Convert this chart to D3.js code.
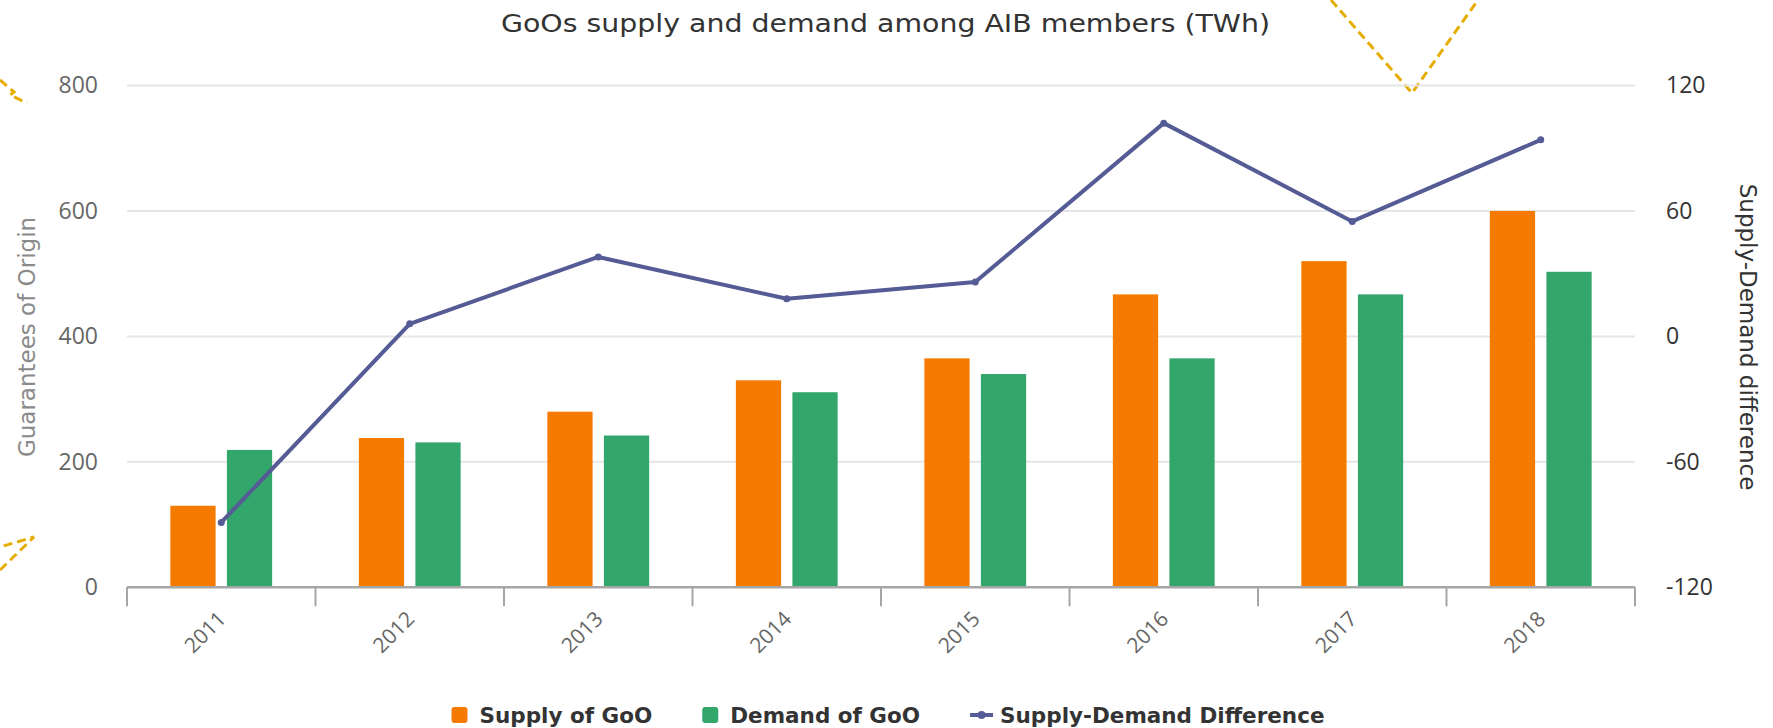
<!DOCTYPE html>
<html>
<head>
<meta charset="utf-8">
<script src="https://cdn.jsdelivr.net/npm/d3@7"></script>
<style>
  html, body { margin: 0; padding: 0; background: #fff; }
  svg { display: block; font-family: "DejaVu Sans", Verdana, sans-serif; }
</style>
</head>
<body>
<svg id="chart" width="1773" height="728"></svg>
<script>
// ---- data ----
const categories = ["2011", "2012", "2013", "2014", "2015", "2016", "2017", "2018"];
const supply = [130, 238, 280, 330, 365, 467, 520, 600];
const demand = [219, 231, 242, 311, 340, 365, 467, 503];
const difference = [-89, 6, 38, 18, 26, 102, 55, 94];
const leftTicks = [0, 200, 400, 600, 800];
const rightTicks = [-120, -60, 0, 60, 120];
const seriesNames = ["Supply of GoO", "Demand of GoO", "Supply-Demand Difference"];
const titleText = "GoOs supply and demand among AIB members (TWh)";
const leftTitle = "Guarantees of Origin";
const rightTitle = "Supply-Demand difference";

// ---- styling ----
const colSupply = "#f57a00";
const colDemand = "#32a66b";
const colLine = "#555b95";

const W = 1773, H = 728;
const plot = { left: 127, right: 1635, top: 85.5, bottom: 587.3 };

const svg = d3.select("#chart");
svg.append("rect").attr("width", W).attr("height", H).attr("fill", "#fff");

// decorative dashed yellow strokes from page background
const deco = svg.append("g").attr("fill", "none").attr("stroke", "#e6ad00")
  .attr("stroke-width", 3).attr("stroke-dasharray", "9,5");
deco.append("path").attr("d", "M1331,0 L1412,93 L1478,0");
deco.append("path").attr("d", "M0,80 L14,92 L10,95 L27,103").attr("stroke-dasharray", null);
deco.append("path").attr("d", "M0,570 L34,537 L0,547");

const x0 = d3.scaleBand().domain(categories).range([plot.left, plot.right]).paddingInner(0).paddingOuter(0);
const bw = x0.bandwidth();
const x1 = d3.scaleBand().domain(["supply", "demand"]).range([0.2 * bw, 0.8 * bw]).paddingInner(0.2).paddingOuter(0.1);
const yL = d3.scaleLinear().domain([0, 800]).range([plot.bottom, plot.top]);
const yR = d3.scaleLinear().domain([-120, 120]).range([plot.bottom, plot.top]);

// gridlines
svg.append("g").selectAll("line").data(leftTicks.filter(d => d > 0)).join("line")
  .attr("x1", plot.left).attr("x2", plot.right)
  .attr("y1", d => yL(d)).attr("y2", d => yL(d))
  .attr("stroke", "#e6e6e6").attr("stroke-width", 2);

// left axis labels
const gL = svg.append("g").attr("transform", `translate(${plot.left},0)`)
  .call(d3.axisLeft(yL).tickValues(leftTicks).tickSize(0).tickPadding(29));
gL.select(".domain").remove();
gL.selectAll("text").attr("font-size", 23).attr("fill", "#666").attr("font-family", "Open Sans");

// right axis labels
const gR = svg.append("g").attr("transform", `translate(${plot.right},0)`)
  .call(d3.axisRight(yR).tickValues(rightTicks).tickSize(0).tickPadding(31).tickFormat(d => d < 0 ? "-" + Math.abs(d) : d));
gR.select(".domain").remove();
gR.selectAll("text").attr("font-size", 23).attr("fill", "#333").attr("font-family", "Open Sans");

// bars
const groups = svg.append("g").selectAll("g").data(categories).join("g")
  .attr("transform", d => `translate(${x0(d)},0)`);
groups.append("rect")
  .attr("x", x1("supply")).attr("width", x1.bandwidth())
  .attr("y", (d, i) => yL(supply[i])).attr("height", (d, i) => yL(0) - yL(supply[i]))
  .attr("fill", colSupply);
groups.append("rect")
  .attr("x", x1("demand")).attr("width", x1.bandwidth())
  .attr("y", (d, i) => yL(demand[i])).attr("height", (d, i) => yL(0) - yL(demand[i]))
  .attr("fill", colDemand);

// x axis
const gX = svg.append("g").attr("transform", `translate(0,${plot.bottom})`);
gX.append("line").attr("x1", plot.left).attr("x2", plot.right).attr("y1", 0).attr("y2", 0)
  .attr("stroke", "#a6a6a6").attr("stroke-width", 2.5);
const bounds = categories.map(c => x0(c)).concat([plot.right]);
gX.selectAll("line.tick").data(bounds).join("line").attr("class", "tick")
  .attr("x1", d => d).attr("x2", d => d).attr("y1", 0).attr("y2", 19)
  .attr("stroke", "#a6a6a6").attr("stroke-width", 2);
gX.selectAll("text").data(categories).join("text")
  .attr("transform", d => `translate(${x0(d) + bw / 2 + 6},33) rotate(-45)`)
  .attr("text-anchor", "end")
  .attr("font-size", 21).attr("fill", "#666").attr("font-family", "Open Sans")
  .text(d => d);

// line
const line = d3.line().x((d, i) => x0(categories[i]) + bw / 2).y(d => yR(d));
svg.append("path").datum(difference).attr("d", line)
  .attr("fill", "none").attr("stroke", colLine).attr("stroke-width", 4)
  .attr("stroke-linejoin", "round").attr("stroke-linecap", "round");
svg.append("g").selectAll("circle").data(difference).join("circle")
  .attr("cx", (d, i) => x0(categories[i]) + bw / 2).attr("cy", d => yR(d)).attr("r", 3.5)
  .attr("fill", colLine);

// title
svg.append("text").attr("x", 885.5).attr("y", 32).attr("text-anchor", "middle")
  .attr("font-size", 25).attr("fill", "#333")
  .attr("textLength", 769).attr("lengthAdjust", "spacingAndGlyphs")
  .text(titleText);

// axis titles
svg.append("text").attr("transform", `translate(35,337) rotate(-90)`)
  .attr("text-anchor", "middle").attr("font-size", 23).attr("fill", "#8a8a8a").text(leftTitle);
svg.append("text").attr("transform", `translate(1740,337) rotate(90)`)
  .attr("text-anchor", "middle").attr("font-size", 23).attr("fill", "#333").text(rightTitle);

// legend
const legend = svg.append("g");
const legendY = 715;
const items = [
  { name: seriesNames[0], type: "rect", color: colSupply },
  { name: seriesNames[1], type: "rect", color: colDemand },
  { name: seriesNames[2], type: "line", color: colLine }
];
const gap = 50;
let cx = 0;
items.forEach((it) => {
  const g = legend.append("g").attr("transform", `translate(${cx},0)`);
  let symW;
  if (it.type === "rect") {
    g.append("rect").attr("x", 0).attr("y", legendY - 8).attr("width", 16).attr("height", 16)
      .attr("rx", 3).attr("fill", it.color);
    symW = 16 + 12;
  } else {
    g.append("line").attr("x1", 0).attr("x2", 23).attr("y1", legendY).attr("y2", legendY)
      .attr("stroke", it.color).attr("stroke-width", 4);
    g.append("circle").attr("cx", 11.5).attr("cy", legendY).attr("r", 4).attr("fill", it.color);
    symW = 23 + 7;
  }
  const t = g.append("text").attr("x", symW).attr("y", legendY + 8)
    .attr("font-size", 21.5).attr("font-weight", "bold").attr("fill", "#333").text(it.name);
  const tw = t.node().getComputedTextLength();
  cx += symW + tw + gap;
});
const totalW = cx - gap;
legend.attr("transform", `translate(${888 - totalW / 2},0)`);
</script>
</body>
</html>
